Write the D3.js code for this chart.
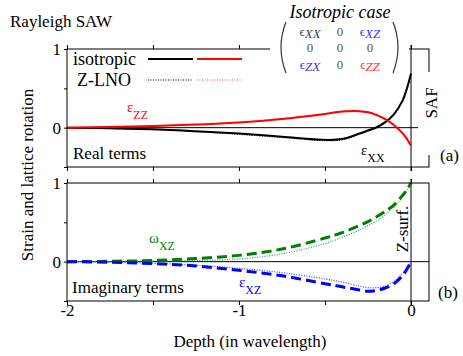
<!DOCTYPE html>
<html>
<head>
<meta charset="utf-8">
<script src="https://cdn.jsdelivr.net/npm/d3@7"></script>
<style>
  body { margin: 0; background: #fff; }
</style>
</head>
<body>
<svg id="chart"></svg>
<script>
// Full size of the svg element.
const WIDTH = 463
const HEIGHT = 356
const FONT = "'Liberation Serif', Tinos, 'Times New Roman', 'DejaVu Serif', serif"

// depth in wavelengths, shared by every curve
const depth = [-2, -1.75, -1.5, -1.25, -1, -0.75, -0.5, -0.4, -0.3, -0.25, -0.2, -0.15, -0.1, -0.05, -0.025, 0]

// (a) real terms
const exxIso = [0, -0.008, -0.02, -0.045, -0.075, -0.115, -0.155, -0.145, -0.075, -0.035, 0.005, 0.07, 0.17, 0.34, 0.49, 0.69]
const exxLno = [0, -0.01, -0.025, -0.05, -0.085, -0.125, -0.165, -0.155, -0.085, -0.045, -0.005, 0.06, 0.16, 0.33, 0.48, 0.68]
const ezzIso = [0, 0.008, 0.02, 0.04, 0.065, 0.11, 0.175, 0.205, 0.21, 0.195, 0.16, 0.11, 0.035, -0.07, -0.14, -0.23]
const ezzLno = [0, 0.008, 0.02, 0.04, 0.068, 0.115, 0.18, 0.21, 0.215, 0.2, 0.17, 0.12, 0.045, -0.06, -0.13, -0.22]

// (b) imaginary terms
const wxzIso = [0, 0.005, 0.015, 0.04, 0.08, 0.16, 0.3, 0.37, 0.46, 0.51, 0.57, 0.64, 0.72, 0.84, 0.91, 1.0]
const wxzLno = [0, 0.003, 0.008, 0.015, 0.035, 0.1, 0.23, 0.31, 0.4, 0.46, 0.52, 0.6, 0.69, 0.82, 0.9, 1.0]
const exzIso = [0, -0.008, -0.025, -0.055, -0.11, -0.18, -0.28, -0.32, -0.36, -0.375, -0.365, -0.335, -0.28, -0.18, -0.1, 0]
const exzLno = [0, -0.006, -0.02, -0.045, -0.085, -0.14, -0.22, -0.26, -0.31, -0.33, -0.33, -0.31, -0.25, -0.15, -0.08, 0]

// ticks
const xTicks = [-2, -1.5, -1, -0.5, 0]
const xLabels = [-2, -1, 0]
const yTicks = [-0.5, 0, 0.5, 1]
const yLabels = [0, 1]

// isotropic strain matrix shown top right
const matrixRows = [
  [["ϵ", "XX", "#444"], ["0", "", "#555"], ["ϵ", "XZ", "#3333ff"]],
  [["0", "", "#555"], ["0", "", "#555"], ["0", "", "#555"]],
  [["ϵ", "ZX", "#3333ff"], ["0", "", "#555"], ["ϵ", "ZZ", "#ff3333"]],
]

const LEFT = 67
const RIGHT = 429
const X0 = 411

const svg = d3.select("#chart").attr("width", WIDTH).attr("height", HEIGHT)
  .style("font-family", FONT)

const x = d3.scaleLinear().domain([-2, 0]).range([LEFT, X0])
const yA = d3.scaleLinear().domain([-0.5, 1]).range([167, 49])
const yB = d3.scaleLinear().domain([-0.5, 1]).range([301, 183])

const panels = [
  {
    y: yA,
    series: [
      { v: exxLno, color: "#222", width: 1.2, dash: "1,1.5" },
      { v: ezzLno, color: "#ff5050", width: 1.2, dash: "1,1.5" },
      { v: exxIso, color: "#000", width: 2, dash: null },
      { v: ezzIso, color: "#ff0000", width: 2, dash: null },
    ],
  },
  {
    y: yB,
    series: [
      { v: wxzLno, color: "#20a0a0", width: 1.2, dash: "1,1.5" },
      { v: exzLno, color: "#4040ff", width: 1.2, dash: "1,1.5" },
      { v: wxzIso, color: "#008000", width: 3, dash: "10,5" },
      { v: exzIso, color: "#0000ff", width: 3, dash: "10,5" },
    ],
  },
]

panels.forEach((p) => {
  const [bottom, top] = p.y.range()
  const g = svg.append("g")

  // zero line and surface line
  g.append("line")
    .attr("x1", LEFT).attr("x2", RIGHT)
    .attr("y1", p.y(0)).attr("y2", p.y(0))
    .attr("stroke", "#000").attr("stroke-width", 1)
  g.append("line")
    .attr("x1", x(0)).attr("x2", x(0))
    .attr("y1", top - 4).attr("y2", bottom + 4)
    .attr("stroke", "#000").attr("stroke-width", 1)

  // curves
  const line = d3.line()
    .x((d, i) => x(depth[i]))
    .y((d) => p.y(d))
    .curve(d3.curveCatmullRom.alpha(0.5))
  p.series.forEach((s) => {
    g.append("path")
      .attr("d", line(s.v))
      .attr("fill", "none")
      .attr("stroke", s.color)
      .attr("stroke-width", s.width)
      .attr("stroke-dasharray", s.dash)
  })

  // frame
  g.append("rect")
    .attr("x", LEFT).attr("y", top)
    .attr("width", RIGHT - LEFT).attr("height", bottom - top)
    .attr("fill", "none").attr("stroke", "#000").attr("stroke-width", 1)

  // ticks, outward
  const left = g.append("g").attr("transform", `translate(${LEFT},0)`)
    .call(d3.axisLeft(p.y).tickValues(yTicks).tickSize(3).tickPadding(3)
      .tickFormat((d) => (yLabels.includes(d) ? d : "")))
  const topAx = g.append("g").attr("transform", `translate(0,${top})`)
    .call(d3.axisTop(x).tickValues(xTicks).tickSize(4).tickFormat(""))
  const botAx = g.append("g").attr("transform", `translate(0,${bottom})`)
    .call(d3.axisBottom(x).tickValues(xTicks).tickSize(4)
      .tickFormat((d) => (p.y === yB && xLabels.includes(d) ? d : "")).tickPadding(-1))
  ;[left, topAx, botAx].forEach((a) => {
    a.attr("font-family", null).attr("font-size", 17)
    a.select(".domain").remove()
    a.selectAll("line").attr("stroke", "#000")
    a.selectAll("text").attr("fill", "#000")
  })
})

// white boxes behind the key texts
svg.append("rect").attr("x", 270).attr("y", 0).attr("width", 139).attr("height", 75).attr("fill", "#fff")
svg.append("rect").attr("x", 418).attr("y", 72).attr("width", 28).attr("height", 83).attr("fill", "#fff")

// title and axis labels
svg.append("text").attr("x", 10).attr("y", 27).attr("font-size", 17).text("Rayleigh SAW")
svg.append("text")
  .attr("transform", "translate(33,175) rotate(-90)")
  .attr("text-anchor", "middle").attr("font-size", 17)
  .text("Strain and lattice rotation")
svg.append("text").attr("x", 250).attr("y", 347).attr("text-anchor", "middle").attr("font-size", 17)
  .text("Depth (in wavelength)")

svg.append("text").attr("x", 73).attr("y", 159).attr("font-size", 17).text("Real terms")
svg.append("text").attr("x", 72).attr("y", 293).attr("font-size", 17).text("Imaginary terms")
svg.append("text").attr("x", 440).attr("y", 161).attr("font-size", 17).text("(a)")
svg.append("text").attr("x", 438).attr("y", 298).attr("font-size", 17).text("(b)")
svg.append("text")
  .attr("transform", "translate(437,103) rotate(-90)")
  .attr("text-anchor", "middle").attr("font-size", 17).text("SAF")
svg.append("text")
  .attr("transform", "translate(408,229) rotate(-90)")
  .attr("text-anchor", "middle").attr("font-size", 17).text("Z-surf.")

// legend
const legend = [
  { label: "isotropic", y: 59, dash: null, w: 2 },
  { label: "Z-LNO", y: 80, dash: "1,1.5", w: 1.2 },
]
legend.forEach((l, i) => {
  svg.append("text").attr("x", i === 0 ? 73 : 77).attr("y", l.y + 6).attr("font-size", 18).text(l.label)
  svg.append("line").attr("x1", 148).attr("x2", 193).attr("y1", l.y).attr("y2", l.y)
    .attr("stroke", "#000").attr("stroke-width", l.w).attr("stroke-dasharray", l.dash)
  svg.append("line").attr("x1", 197).attr("x2", 242).attr("y1", l.y).attr("y2", l.y)
    .attr("stroke", i === 0 ? "#ff0000" : "#ff5050").attr("stroke-width", l.w).attr("stroke-dasharray", l.dash)
})

// curve labels
function subLabel(sym, sub, xx, yy, color) {
  const t = svg.append("text").attr("x", xx).attr("y", yy).attr("fill", color).attr("font-size", 15)
  t.append("tspan").text(sym)
  t.append("tspan").attr("dy", 7).attr("font-size", 12).text(sub)
}
subLabel("ε", "ZZ", 127, 112, "#ff0000")
subLabel("ε", "XX", 361, 155, "#000")
subLabel("ω", "XZ", 149, 243, "#008000")
subLabel("ε", "XZ", 239, 287, "#0000ff")

// matrix
svg.append("text").attr("x", 340).attr("y", 18).attr("text-anchor", "middle")
  .attr("font-size", 18).attr("font-style", "italic").text("Isotropic case")
const colX = [310, 340, 370]
const rowY = [36, 52, 69]
matrixRows.forEach((row, r) => {
  row.forEach((cell, c) => {
    const t = svg.append("text").attr("x", colX[c]).attr("y", rowY[r])
      .attr("text-anchor", "middle").attr("fill", cell[2]).attr("font-size", 13)
    t.append("tspan").text(cell[0])
    if (cell[1]) t.append("tspan").attr("dy", 2).attr("font-style", "italic").attr("font-size", 13).text(cell[1])
  })
})
svg.append("path").attr("d", "M286,22 Q276,47 286,73").attr("fill", "none").attr("stroke", "#333").attr("stroke-width", 1.2)
svg.append("path").attr("d", "M393,22 Q403,47 393,73").attr("fill", "none").attr("stroke", "#333").attr("stroke-width", 1.2)
</script>
</body>
</html>
